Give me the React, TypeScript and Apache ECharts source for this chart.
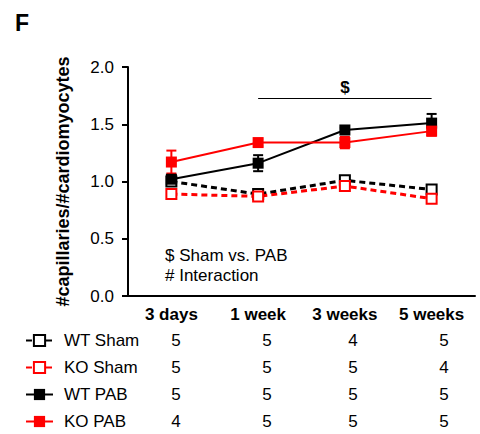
import React, { useEffect, useRef } from "react";
import * as echarts from "echarts";

const categories = ["3 days", "1 week", "3 weeks", "5 weeks"];
const yTicks = [0, 0.5, 1.0, 1.5, 2.0];

const wtSham = [1.0, 0.89, 1.01, 0.93];
const wtShamErr = [0.02, 0.02, 0.03, 0.03];
const koSham = [0.89, 0.87, 0.96, 0.85];
const koShamErr = [0.03, 0.02, 0.03, 0.03];
const wtPab = [1.02, 1.16, 1.45, 1.51];
const wtPabErr = [0.03, 0.07, 0.02, 0.08];
const koPab = [1.17, 1.34, 1.34, 1.44];
const koPabErr = [0.1, 0.03, 0.05, 0.04];

const seriesNames = ["WT Sham", "KO Sham", "WT PAB", "KO PAB"];
const nCounts = [
  [5, 5, 4, 5],
  [5, 5, 5, 4],
  [5, 5, 5, 5],
  [4, 5, 5, 5],
];
const sigY = 1.73;

const FONT = "'Liberation Sans', Arial, sans-serif";

function errSeries(vals: number[], errs: number[], color: string, lw: number) {
  return {
    type: "custom",
    silent: true,
    z: 1,
    data: vals.map((v, i) => [i, v, errs[i]]),
    renderItem: (params: any, api: any) => {
      const i = api.value(0);
      const v = api.value(1);
      const e = api.value(2);
      const top = api.coord([i, v + e]);
      const bot = api.coord([i, v - e]);
      const hw = 5;
      const st = { stroke: color, lineWidth: lw };
      return {
        type: "group",
        children: [
          { type: "line", shape: { x1: top[0], y1: top[1], x2: bot[0], y2: bot[1] }, style: st },
          { type: "line", shape: { x1: top[0] - hw, y1: top[1], x2: top[0] + hw, y2: top[1] }, style: st },
          { type: "line", shape: { x1: bot[0] - hw, y1: bot[1], x2: bot[0] + hw, y2: bot[1] }, style: st },
        ],
      };
    },
  };
}

export default function App() {
  const ref = useRef<HTMLDivElement>(null);
  useEffect(() => {
    if (!ref.current) return;
    const chart = echarts.init(ref.current, null, { renderer: "svg" });
    const colX = [176, 267, 353, 444];
    const rowY = [340, 367, 394, 421];
    const tableTexts: any[] = [];
    nCounts.forEach((row, r) =>
      row.forEach((n, c) =>
        tableTexts.push({
          type: "text",
          x: colX[c],
          y: rowY[r],
          style: {
            text: String(n),
            font: `17px ${FONT}`,
            fill: "#000",
            align: "center",
            verticalAlign: "middle",
          },
        })
      )
    );
    chart.setOption({
      animation: false,
      backgroundColor: "#fff",
      grid: { left: 128, right: 5, top: 67, bottom: 138 },
      legend: {
        data: seriesNames,
        orient: "vertical",
        left: 25,
        top: 332,
        height: 102,
        padding: 0,
        itemWidth: 27,
        itemHeight: 14,
        itemGap: 10,
        selectedMode: false,
        textStyle: {
          fontFamily: FONT,
          fontSize: 17,
          color: "#000",
          padding: [0, 0, 0, 6],
        },
      },
      xAxis: {
        type: "category",
        data: categories,
        boundaryGap: true,
        axisLine: { lineStyle: { color: "#000", width: 2 } },
        axisTick: { alignWithLabel: true, length: 5, lineStyle: { color: "#000", width: 2 } },
        axisLabel: { fontFamily: FONT, fontSize: 17, fontWeight: "bold", color: "#000", margin: 10 },
      },
      yAxis: {
        type: "value",
        min: yTicks[0],
        max: yTicks[yTicks.length - 1],
        interval: 0.5,
        name: "#capillaries/#cardiomyocytes",
        nameLocation: "middle",
        nameGap: 56,
        nameTextStyle: { fontFamily: FONT, fontSize: 18, fontWeight: "bold", color: "#000" },
        splitLine: { show: false },
        axisLine: { show: true, lineStyle: { color: "#000", width: 2 } },
        axisTick: { show: true, length: 6, lineStyle: { color: "#000", width: 2 } },
        axisLabel: {
          fontFamily: FONT,
          fontSize: 17,
          color: "#000",
          margin: 14,
          formatter: (v: number) => v.toFixed(1),
        },
      },
      graphic: [
        {
          type: "text",
          left: 15,
          top: 11,
          style: { text: "F", font: `bold 23px ${FONT}`, fill: "#000" },
        },
        {
          type: "text",
          x: 165,
          y: 255,
          style: { text: "$ Sham vs. PAB", font: `17px ${FONT}`, fill: "#000", verticalAlign: "middle" },
        },
        {
          type: "text",
          x: 165,
          y: 275,
          style: { text: "# Interaction", font: `17px ${FONT}`, fill: "#000", verticalAlign: "middle" },
        },
        ...tableTexts,
      ],
      series: [
        errSeries(wtSham, wtShamErr, "#000", 2),
        errSeries(koSham, koShamErr, "#ff0000", 2),
        errSeries(wtPab, wtPabErr, "#000", 2),
        errSeries(koPab, koPabErr, "#ff0000", 2),
        {
          name: "WT Sham",
          type: "line",
          data: wtSham,
          z: 2,
          symbol: "rect",
          symbolSize: 10,
          lineStyle: { color: "#000", width: 3, type: [6, 4] },
          itemStyle: { color: "#fff", borderColor: "#000", borderWidth: 2 },
        },
        {
          name: "KO Sham",
          type: "line",
          data: koSham,
          z: 2,
          symbol: "rect",
          symbolSize: 10,
          lineStyle: { color: "#ff0000", width: 3, type: [6, 4] },
          itemStyle: { color: "#fff", borderColor: "#ff0000", borderWidth: 2 },
        },
        {
          name: "WT PAB",
          type: "line",
          data: wtPab,
          z: 3,
          symbol: "rect",
          symbolSize: 11,
          lineStyle: { color: "#000", width: 2 },
          itemStyle: { color: "#000" },
          markLine: {
            silent: true,
            symbol: "none",
            lineStyle: { color: "#000", width: 1, type: "solid" },
            label: {
              show: true,
              position: "insideMiddleTop",
              formatter: "$",
              fontFamily: FONT,
              fontSize: 17,
              fontWeight: "bold",
              color: "#000",
              distance: 2,
            },
            data: [
              [
                { coord: [categories[1], sigY] },
                { coord: [categories[3], sigY] },
              ],
            ],
          },
        },
        {
          name: "KO PAB",
          type: "line",
          data: koPab,
          z: 3,
          symbol: "rect",
          symbolSize: 11,
          lineStyle: { color: "#ff0000", width: 2 },
          itemStyle: { color: "#ff0000" },
        },
      ],
    });
    return () => chart.dispose();
  }, []);
  return <div ref={ref} style={{ width: 480, height: 434, position: "absolute", left: 0, top: 0 }} />;
}
